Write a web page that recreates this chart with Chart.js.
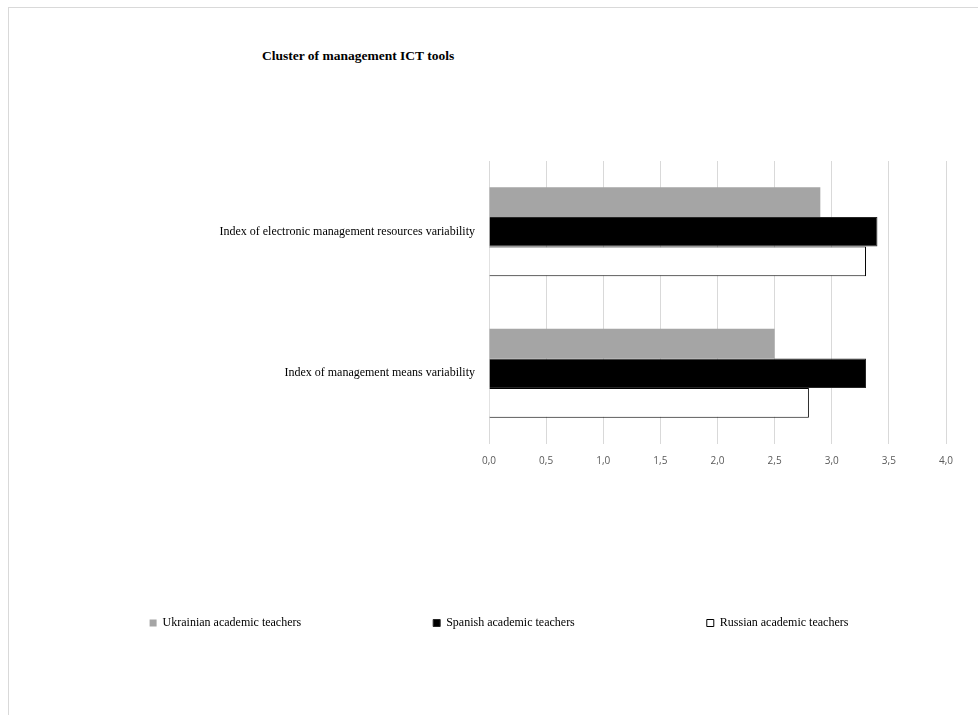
<!DOCTYPE html>
<html>
<head>
<meta charset="utf-8">
<script src="https://cdn.jsdelivr.net/npm/chart.js@4/dist/chart.umd.min.js"></script>
<style>
  html, body { margin: 0; padding: 0; background: #fff; overflow: hidden; width: 978px; height: 715px; }
  #frame { position: absolute; left: 8px; top: 7px; width: 990px; height: 730px; border-top: 1px solid #d9d9d9; border-left: 1px solid #d9d9d9; }
  #title { position: absolute; left: 253px; top: 40px; font-family: "Liberation Serif", "Times New Roman", serif; font-weight: bold; font-size: 13.5px; color: #000; white-space: nowrap; }
  #wrap { position: absolute; left: 0; top: 0; width: 980px; height: 631px; }
</style>
</head>
<body>
<div id="frame">
  <div id="title">Cluster of management ICT tools</div>
  <div id="wrap"><canvas id="c"></canvas></div>
</div>
<script>
const categories = ['Index of electronic management resources variability', 'Index of management means variability'];
const seriesNames = ['Ukrainian academic teachers', 'Spanish academic teachers', 'Russian academic teachers'];
const ukrainian = [2.9, 2.5];
const spanish = [3.4, 3.3];
const russian = [3.3, 2.8];
const tickLabels = ['0,0', '0,5', '1,0', '1,5', '2,0', '2,5', '3,0', '3,5', '4,0'];

const serif = '"Liberation Serif", "Times New Roman", serif';

new Chart(document.getElementById('c'), {
  type: 'bar',
  data: {
    labels: categories,
    datasets: [
      { label: seriesNames[0], data: ukrainian, backgroundColor: '#a5a5a5', borderColor: '#a5a5a5', borderWidth: 0 },
      { label: seriesNames[1], data: spanish, backgroundColor: '#000000', borderColor: '#262626', borderWidth: 1 },
      { label: seriesNames[2], data: russian, backgroundColor: '#ffffff', borderColor: '#000000', borderWidth: 1 }
    ]
  },
  options: {
    indexAxis: 'y',
    responsive: true,
    maintainAspectRatio: false,
    animation: false,
    events: [],
    datasets: { bar: { barPercentage: 1, categoryPercentage: 0.63 } },
    layout: { padding: { top: 153, right: 0, bottom: 0, left: 0 } },
    scales: {
      x: {
        min: 0, max: 4,
        ticks: {
          stepSize: 0.5,
          padding: 11,
          color: '#595959',
          font: { family: '"Open Sans", sans-serif', size: 10 },
          callback: (v, i) => tickLabels[i]
        },
        grid: { color: '#d9d9d9', drawTicks: false },
        border: { display: false },
        afterFit: (s) => { s.height = 41; s.paddingRight = 43; }
      },
      y: {
        ticks: { padding: 14, color: '#000', font: { family: serif, size: 12 } },
        grid: { display: false, drawTicks: false },
        border: { display: false },
        afterFit: (s) => { s.width = 480; }
      }
    },
    plugins: {
      title: { display: false },
      tooltip: { enabled: false },
      legend: {
        position: 'bottom',
        labels: {
          boxWidth: 7, boxHeight: 7, padding: 132,
          color: '#000',
          font: { family: serif, size: 12 }
        }
      }
    }
  }
});
</script>
</body>
</html>
